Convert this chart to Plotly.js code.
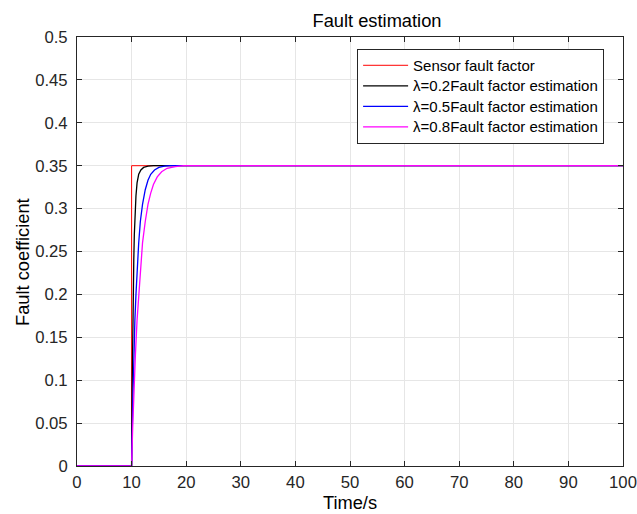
<!DOCTYPE html>
<html>
<head>
<meta charset="utf-8">
<script src="https://cdn.plot.ly/plotly-3.0.1.min.js"></script>
<style>html,body{margin:0;padding:0;background:#fff;}#chart{width:637px;height:514px;}</style>
</head>
<body>
<div id="chart"></div>
<script>
// Sensor fault factor (step)
var tRed = [0, 10, 10, 100];
var vRed = [0, 0, 0.35, 0.35];

// lambda = 0.2 estimation
var tBlack = [0, 10, 10.1, 10.2, 10.3, 10.4, 10.5, 10.6, 10.8, 11.0, 11.3, 11.7, 12.2, 13.0, 14.0, 100];
var vBlack = [0, 0, 0.09, 0.16, 0.21, 0.24, 0.27, 0.29, 0.315, 0.33, 0.34, 0.345, 0.348, 0.3495, 0.35, 0.35];

// lambda = 0.5 estimation
var tBlue = [0, 10, 10.2, 10.4, 10.6, 10.8, 11.0, 11.3, 11.6, 12.0, 12.5, 13.0, 13.5, 14.2, 15.0, 16.0, 17.0, 100];
var vBlue = [0, 0, 0.07, 0.13, 0.17, 0.2, 0.23, 0.26, 0.285, 0.305, 0.322, 0.333, 0.34, 0.345, 0.348, 0.3495, 0.35, 0.35];

// lambda = 0.8 estimation
var tMag = [0, 10, 10.2, 10.4, 10.7, 11.0, 11.5, 12.0, 12.5, 13.0, 13.5, 14.0, 14.7, 15.5, 16.5, 18.0, 19.5, 100];
var vMag = [0, 0, 0.045, 0.085, 0.13, 0.17, 0.22, 0.26, 0.285, 0.305, 0.318, 0.328, 0.337, 0.343, 0.347, 0.349, 0.35, 0.35];

var names = ['Sensor fault factor', 'λ=0.2Fault factor estimation', 'λ=0.5Fault factor estimation', 'λ=0.8Fault factor estimation'];
var colors = ['#ff0000', '#000000', '#0000ff', '#ff00ff'];
var xTicks = [0,10,20,30,40,50,60,70,80,90,100];
var yTicks = [0,0.05,0.1,0.15,0.2,0.25,0.3,0.35,0.4,0.45,0.5];
var yTickText = ['0','0.05','0.1','0.15','0.2','0.25','0.3','0.35','0.4','0.45','0.5'];

var xs = [tRed, tBlack, tBlue, tMag];
var ys = [vRed, vBlack, vBlue, vMag];
var traces = xs.map(function (x, i) {
  return {x: x, y: ys[i], name: '<span style="font-size:15px">' + names[i] + '</span>', mode: 'lines',
          line: {color: colors[i], width: i === 0 ? 1 : 1.3}};
});

var fam = 'Liberation Sans, Arial, sans-serif';
var layout = {
  width: 637, height: 514,
  margin: {l: 77, r: 14, t: 37, b: 48},
  paper_bgcolor: '#ffffff', plot_bgcolor: '#ffffff',
  font: {family: fam, size: 16.7, color: '#262626'},
  title: {text: 'Fault estimation', font: {size: 18.3, color: '#000'}, x: 350/637, xanchor: 'center', xref: 'paper', y: 1 - 21/514, yanchor: 'middle'},
  showlegend: true,
  legend: {x: 0.513, y: 0.972, xanchor: 'left', yanchor: 'top', bgcolor: '#ffffff', bordercolor: '#262626', borderwidth: 1,
           font: {size: 13.5, color: '#000'}, itemwidth: 45, tracegroupgap: 0},
  xaxis: {range: [0, 100], tickvals: xTicks, ticktext: xTicks.map(String), ticks: 'inside', ticklen: 5, tickcolor: '#262626',
          showline: true, linecolor: '#262626', linewidth: 1, mirror: 'ticks', showgrid: true, gridcolor: '#e6e6e6', zeroline: false,
          title: {text: 'Time/s', font: {size: 18.3, color: '#000'}, standoff: 2}, tickfont: {size: 16.7}, ticklabelstandoff: 1},
  yaxis: {range: [0, 0.5], tickvals: yTicks, ticktext: yTickText, ticks: 'inside', ticklen: 5, tickcolor: '#262626',
          showline: true, linecolor: '#262626', linewidth: 1, mirror: 'ticks', showgrid: true, gridcolor: '#e6e6e6', zeroline: false,
          tickfont: {size: 16.7}, ticklabelstandoff: 5},
  annotations: [{text: 'Fault coefficient', textangle: -90, xref: 'paper', yref: 'paper',
                 x: (22 - 77) / 546, y: (466 - 262) / 429, xanchor: 'center', yanchor: 'middle', showarrow: false,
                 font: {size: 18.3, color: '#000', family: fam}}]
};
Plotly.newPlot('chart', traces, layout, {displayModeBar: false, staticPlot: true});
</script>
</body>
</html>
